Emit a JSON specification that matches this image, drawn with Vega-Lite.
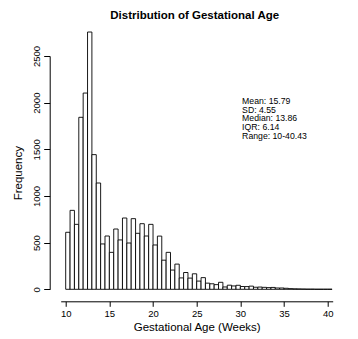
{
  "$schema": "https://vega.github.io/schema/vega-lite/v6.json",
  "width": 272,
  "height": 233.3,
  "autosize": {"type": "none"},
  "padding": {"left": 60.7, "top": 56, "right": 25.3, "bottom": 49.7},
  "background": "white",
  "config": {
    "view": {"stroke": null},
    "font": "Liberation Sans",
    "axis": {"domainColor": "black", "tickColor": "black", "labelColor": "black", "titleColor": "black", "grid": false, "labelFont": "Liberation Sans", "titleFont": "Liberation Sans", "titleFontWeight": "normal", "domainWidth": 1, "tickWidth": 1}
  },
  "title": {"text": "Distribution of Gestational Age", "fontSize": 11.5, "fontWeight": "bold", "font": "Liberation Sans", "color": "black", "offset": 10, "frame": "group", "anchor": "middle", "dx": -2},
  "layer": [
    {
      "data": {"values": [
        {"start": 10.0, "end": 10.5, "count": 611},
        {"start": 10.5, "end": 11.0, "count": 846},
        {"start": 11.0, "end": 11.5, "count": 696},
        {"start": 11.5, "end": 12.0, "count": 1843},
        {"start": 12.0, "end": 12.5, "count": 2103},
        {"start": 12.5, "end": 13.0, "count": 2757},
        {"start": 13.0, "end": 13.5, "count": 1443},
        {"start": 13.5, "end": 14.0, "count": 1139},
        {"start": 14.0, "end": 14.5, "count": 486},
        {"start": 14.5, "end": 15.0, "count": 571},
        {"start": 15.0, "end": 15.5, "count": 396},
        {"start": 15.5, "end": 16.0, "count": 646},
        {"start": 16.0, "end": 16.5, "count": 529},
        {"start": 16.5, "end": 17.0, "count": 764},
        {"start": 17.0, "end": 17.5, "count": 496},
        {"start": 17.5, "end": 18.0, "count": 757},
        {"start": 18.0, "end": 18.5, "count": 600},
        {"start": 18.5, "end": 19.0, "count": 703},
        {"start": 19.0, "end": 19.5, "count": 571},
        {"start": 19.5, "end": 20.0, "count": 696},
        {"start": 20.0, "end": 20.5, "count": 475},
        {"start": 20.5, "end": 21.0, "count": 570},
        {"start": 21.0, "end": 21.5, "count": 312},
        {"start": 21.5, "end": 22.0, "count": 396},
        {"start": 22.0, "end": 22.5, "count": 206},
        {"start": 22.5, "end": 23.0, "count": 270},
        {"start": 23.0, "end": 23.5, "count": 122},
        {"start": 23.5, "end": 24.0, "count": 180},
        {"start": 24.0, "end": 24.5, "count": 120},
        {"start": 24.5, "end": 25.0, "count": 166},
        {"start": 25.0, "end": 25.5, "count": 88},
        {"start": 25.5, "end": 26.0, "count": 125},
        {"start": 26.0, "end": 26.5, "count": 66},
        {"start": 26.5, "end": 27.0, "count": 59},
        {"start": 27.0, "end": 27.5, "count": 50},
        {"start": 27.5, "end": 28.0, "count": 75},
        {"start": 28.0, "end": 28.5, "count": 25},
        {"start": 28.5, "end": 29.0, "count": 44},
        {"start": 29.0, "end": 29.5, "count": 36},
        {"start": 29.5, "end": 30.0, "count": 43},
        {"start": 30.0, "end": 30.5, "count": 30},
        {"start": 30.5, "end": 31.0, "count": 29},
        {"start": 31.0, "end": 31.5, "count": 34},
        {"start": 31.5, "end": 32.0, "count": 22},
        {"start": 32.0, "end": 32.5, "count": 24},
        {"start": 32.5, "end": 33.0, "count": 21},
        {"start": 33.0, "end": 33.5, "count": 18},
        {"start": 33.5, "end": 34.0, "count": 20},
        {"start": 34.0, "end": 34.5, "count": 14},
        {"start": 34.5, "end": 35.0, "count": 14},
        {"start": 35.0, "end": 35.5, "count": 11},
        {"start": 35.5, "end": 36.0, "count": 7},
        {"start": 36.0, "end": 36.5, "count": 5},
        {"start": 36.5, "end": 37.0, "count": 4},
        {"start": 37.0, "end": 37.5, "count": 3},
        {"start": 37.5, "end": 38.0, "count": 2},
        {"start": 38.0, "end": 38.5, "count": 2},
        {"start": 38.5, "end": 39.0, "count": 1},
        {"start": 39.0, "end": 39.5, "count": 1},
        {"start": 39.5, "end": 40.0, "count": 1},
        {"start": 40.0, "end": 40.5, "count": 1}
      ]},
      "mark": {"type": "bar", "fill": "white", "stroke": "black", "strokeWidth": 0.9, "clip": false, "orient": "vertical"},
      "encoding": {
        "x": {"field": "start", "type": "quantitative",
          "scale": {"domain": [10, 40], "nice": false, "zero": false},
          "axis": {"title": "Gestational Age (Weeks)", "values": [10, 15, 20, 25, 30, 35, 40], "offset": 12, "tickSize": 5, "labelFontSize": 9.5, "labelPadding": 2, "titleFontSize": 11.5, "titlePadding": 4, "labelAngle": 0}},
        "x2": {"field": "end"},
        "y": {"field": "count", "type": "quantitative",
          "scale": {"domain": [0, 2500], "nice": false},
          "axis": {"title": "Frequency", "values": [0, 500, 1000, 1500, 2000, 2500], "format": "d", "offset": 11, "tickSize": 6, "labelAngle": -90, "labelAlign": "center", "labelBaseline": "bottom", "labelFontSize": 9.5, "labelPadding": 2, "titleFontSize": 11.5, "titlePadding": 8}},
        "y2": {"datum": 0}
      }
    },
    {
      "data": {"values": [
        {"x": 30.2, "y": 2060, "label": "Mean: 15.79\nSD: 4.55\nMedian: 13.86\nIQR: 6.14\nRange: 10-40.43"}
      ]},
      "mark": {"type": "text", "align": "left", "baseline": "top", "fontSize": 8.7, "lineHeight": 8.7, "lineBreak": "\n", "color": "black", "font": "Liberation Sans"},
      "encoding": {
        "x": {"field": "x", "type": "quantitative"},
        "y": {"field": "y", "type": "quantitative"},
        "text": {"field": "label"}
      }
    }
  ]
}
